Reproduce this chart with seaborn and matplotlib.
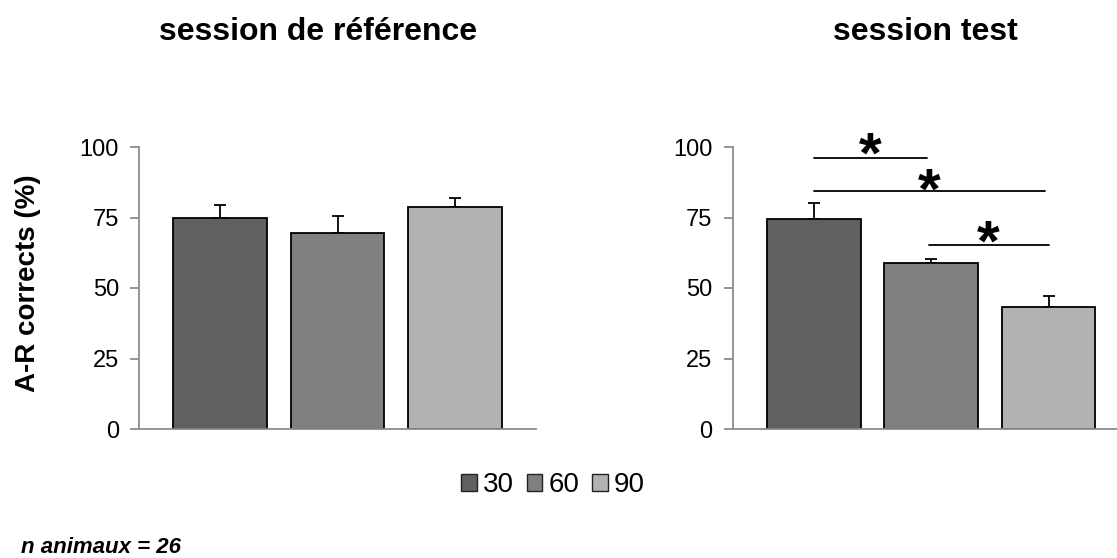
import numpy as np
import matplotlib
matplotlib.use("Agg")
import matplotlib.pyplot as plt
import seaborn as sns
from matplotlib.patches import Patch

# --- Data ---
delays = ["30", "60", "90"]
ref_means = [74.8, 69.6, 78.7]
ref_sem = [4.5, 5.9, 3.2]
test_means = [74.4, 58.8, 43.4]
test_sem = [5.9, 1.4, 3.6]
bar_colors = ["#606060", "#808080", "#b2b2b2"]
yticks = [0, 25, 50, 75, 100]

# significance brackets on the test session: (from, to, height, star height)
sig_pairs = [(0, 0.96, 96.2, 100.6), (0, 1.97, 84.3, 87.8), (0.98, 2.0, 65.4, 69.4)]

# --- Style ---
sns.set_style("white")
plt.rcParams["font.family"] = ["Liberation Sans", "DejaVu Sans"]
plt.rcParams["text.color"] = "black"
plt.rcParams["axes.labelcolor"] = "black"
spine_col = "#8c8c8c"

W, H = 1117, 558
fig = plt.figure(figsize=(W / 100, H / 100), dpi=100)

ax_l = fig.add_axes([139 / W, 1 - 429 / H, 397 / W, 282 / H])
ax_r = fig.add_axes([732.7 / W, 1 - 429 / H, 397 / W, 282 / H])


def draw_panel(ax, means, sem):
    sns.barplot(x=delays, y=means, hue=delays, palette=bar_colors, width=0.8,
                edgecolor="black", linewidth=1.3, legend=False, ax=ax, zorder=2)
    ax.errorbar(np.arange(len(means)), means, yerr=[np.zeros(len(sem)), sem],
                fmt="none", ecolor="black", elinewidth=1.3, capsize=4.5,
                capthick=1.3, zorder=1)
    ax.set_xlim(-0.692, 2.692)
    ax.set_ylim(0, 100)
    ax.set_yticks(yticks)
    ax.set_xticks([])
    ax.set_xlabel("")
    ax.set_ylabel("")
    for s in ["top", "right"]:
        ax.spines[s].set_visible(False)
    for s in ["left", "bottom"]:
        ax.spines[s].set_color(spine_col)
        ax.spines[s].set_linewidth(1.3)
    ax.tick_params(axis="y", length=6.5, width=1.3, color=spine_col,
                   labelsize=17, pad=8, labelcolor="black", left=True)


draw_panel(ax_l, ref_means, ref_sem)
draw_panel(ax_r, test_means, test_sem)

for x0, x1, yb, ys in sig_pairs:
    ax_r.plot([x0, x1], [yb, yb], color="black", lw=1.3, clip_on=False)
    ax_r.text((x0 + x1) / 2, ys - 9.5, "*", ha="center", va="baseline",
              fontsize=42, fontweight="bold", color="black", clip_on=False)

# titles and labels
fig.text(318 / W, 1 - 40 / H, "session de référence", ha="center", va="baseline",
         fontsize=23, fontweight="bold")
fig.text(925 / W, 1 - 40 / H, "session test", ha="center", va="baseline",
         fontsize=23, fontweight="bold")
fig.text(28 / W, 1 - 283 / H, "A-R corrects (%)", rotation=90, ha="center",
         va="center", fontsize=20, fontweight="bold")
fig.text(21 / W, 5 / H, "n animaux = 26", ha="left", va="baseline",
         fontsize=16, fontweight="bold", fontstyle="italic")

handles = [Patch(facecolor=c, edgecolor="#222222", linewidth=1.0) for c in bar_colors]
fig.legend(handles, delays, loc="center", bbox_to_anchor=(553 / W, 1 - 485 / H),
           ncol=3, frameon=False, fontsize=20, handlelength=0.56, handleheight=0.56,
           handletextpad=0.22, columnspacing=0.47, borderpad=0)

fig.savefig("out.png", dpi=100)
